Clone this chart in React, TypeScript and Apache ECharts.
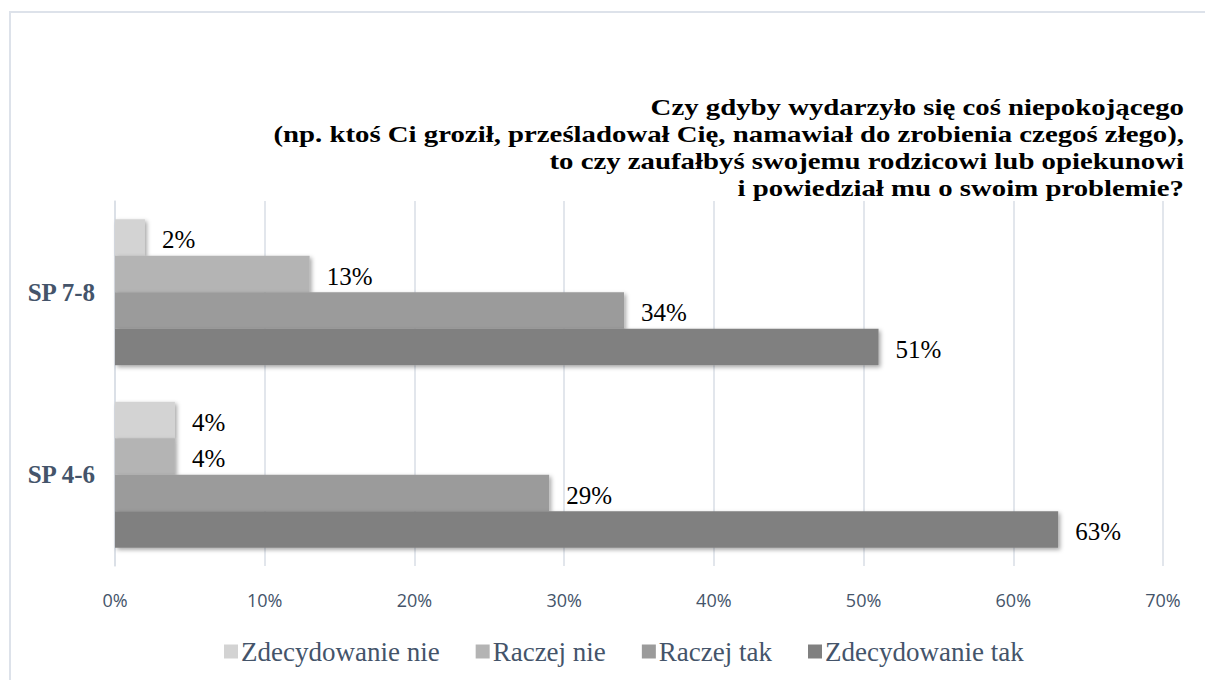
import React, { useEffect, useRef } from "react";
import * as echarts from "echarts";

const titleLines = [
  "Czy gdyby wydarzyło się coś niepokojącego",
  "(np. ktoś Ci groził, prześladował Cię, namawiał do zrobienia czegoś złego),",
  "to czy zaufałbyś swojemu rodzicowi lub opiekunowi",
  "i powiedział mu o swoim problemie?",
];
const categories = ["SP 7-8", "SP 4-6"];
const seriesNames = ["Zdecydowanie nie", "Raczej nie", "Raczej tak", "Zdecydowanie tak"];
const zdecydowanieNie = [2, 4];
const raczejNie = [13, 4];
const raczejTak = [34, 29];
const zdecydowanieTak = [51, 63];
const seriesColors = ["#D3D3D3", "#B4B4B4", "#9B9B9B", "#808080"];
const xTicks = [0, 10, 20, 30, 40, 50, 60, 70];

export default function App() {
  const ref = useRef<HTMLDivElement>(null);
  useEffect(() => {
    document.body.style.margin = "0";
    const chart = echarts.init(ref.current!, undefined, { renderer: "svg" });
    const values = [zdecydowanieNie, raczejNie, raczejTak, zdecydowanieTak];
    const serif = "'Liberation Serif', 'Times New Roman', serif";
    chart.setOption({
      animation: false,
      backgroundColor: "#FFFFFF",
      graphic: [
        {
          type: "rect",
          shape: { x: 10, y: 12, width: 1300, height: 800 },
          style: { fill: "none", stroke: "#DDE2EA", lineWidth: 2 },
          silent: true,
        },
        {
          type: "text",
          x: 1184,
          y: 93,
          scaleX: 1.2,
          silent: true,
          style: {
            text: titleLines.join("\n"),
            align: "right",
            verticalAlign: "top",
            fontFamily: serif,
            fontWeight: "bold",
            fontSize: 24,
            lineHeight: 27,
            fill: "#000000",
          },
        },
      ],
      legend: {
        data: seriesNames,
        bottom: 10,
        left: 219,
        itemWidth: 14,
        itemHeight: 14,
        itemGap: 36,
        icon: "rect",
        textStyle: { fontFamily: serif, fontSize: 27, color: "#44546A", padding: [0, 0, 0, -2] },
      },
      grid: { left: 115, right: 42, top: 201, bottom: 114, containLabel: false },
      xAxis: {
        type: "value",
        min: 0,
        max: 70,
        interval: 10,
        axisLabel: {
          formatter: (v: number) => (xTicks.includes(v) ? v + "%" : ""),
          fontFamily: "'Open Sans', sans-serif",
          fontSize: 18,
          color: "#44546A",
          margin: 25,
        },
        axisLine: { show: false },
        axisTick: { show: false },
        splitLine: { lineStyle: { color: "#D9DEE6", width: 1.5 } },
      },
      yAxis: {
        type: "category",
        data: categories,
        inverse: true,
        axisLine: { lineStyle: { color: "#D9DEE6", width: 1.5 } },
        axisTick: { show: false },
        axisLabel: {
          fontFamily: serif,
          fontWeight: "bold",
          fontSize: 25,
          color: "#44546A",
          margin: 20,
        },
      },
      series: seriesNames.map((name, i) => ({
        name,
        type: "bar",
        data: values[i],
        barGap: "0%",
        barCategoryGap: "20%",
        itemStyle: {
          color: seriesColors[i],
          shadowColor: "rgba(0,0,0,0.35)",
          shadowBlur: 4,
          shadowOffsetX: 2,
          shadowOffsetY: 2,
        },
        label: {
          show: true,
          position: "right",
          distance: 17,
          offset: [0, 2],
          formatter: "{c}%",
          fontFamily: serif,
          fontSize: 25,
          color: "#000000",
        },
      })),
    });
    return () => chart.dispose();
  }, []);
  return <div ref={ref} style={{ width: 1205, height: 680 }} />;
}
